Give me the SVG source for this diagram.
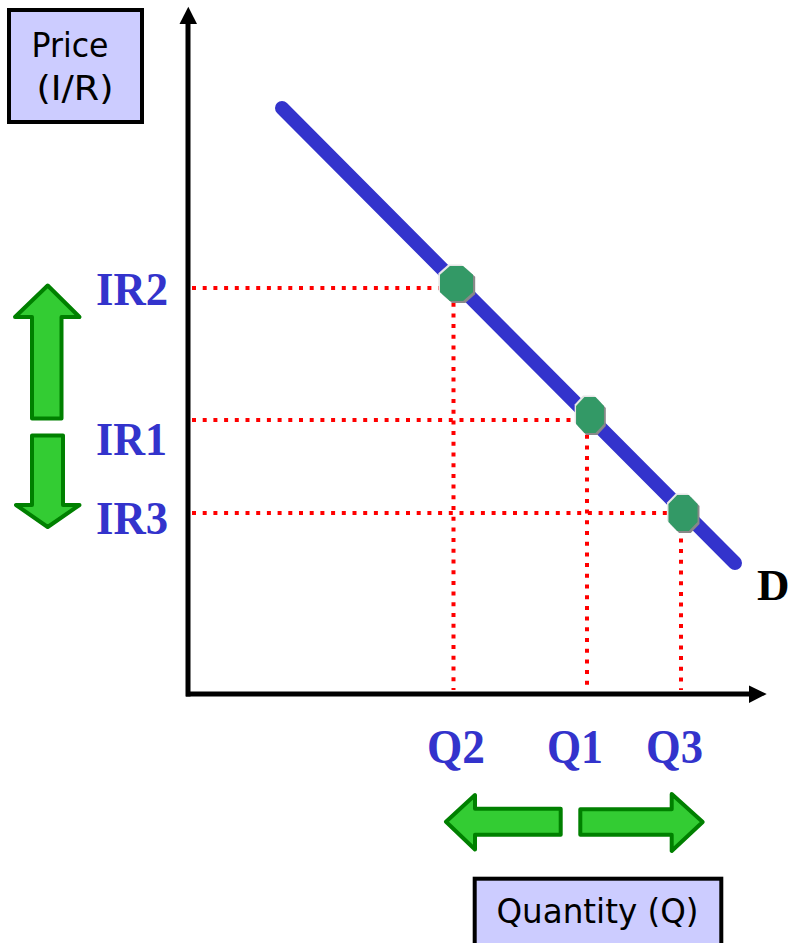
<svg xmlns="http://www.w3.org/2000/svg" width="790" height="943" viewBox="0 0 790 943">
<style>
.box{fill:#CCCCFF;stroke:#000;stroke-width:4}
.lab{font-family:"DejaVu Sans Condensed","DejaVu Sans",sans-serif;fill:#000}
.val{font-family:"Liberation Serif","Times New Roman",serif;font-weight:bold;fill:#3333CC}
.dot{stroke:#FF0000;stroke-width:4;stroke-dasharray:4 6.7;fill:none}
.garrow{fill:#33CC33;stroke:#008000;stroke-width:4;stroke-linejoin:round}
.axis{stroke:#000;stroke-width:5;fill:none}
</style>
<defs>
<g id="oct">
<polygon points="-6,-18 6,-18 15,-9 15,9 6,18 -6,18 -15,9 -15,-9" fill="#888888" transform="translate(2,2)"/>
<polygon points="-6,-18 6,-18 15,-9 15,9 6,18 -6,18 -15,9 -15,-9" fill="#E6E6E6" transform="translate(-1.5,-1.5)"/>
<polygon points="-6,-18 6,-18 15,-9 15,9 6,18 -6,18 -15,9 -15,-9" fill="#339966"/>
</g>
</defs>
<rect width="790" height="943" fill="#fff"/>

<g id="price-box">
<rect class="box" x="9" y="10" width="133" height="112"/>
<text class="lab" x="70" y="57" font-size="34" text-anchor="middle" textLength="77" lengthAdjust="spacingAndGlyphs">Price</text>
<text class="lab" x="75" y="100" font-size="34" text-anchor="middle" textLength="77" lengthAdjust="spacingAndGlyphs">(I/R)</text>
</g>

<g id="quantity-box">
<rect class="box" x="474.7" y="878.7" width="246.6" height="80"/>
<text class="lab" x="597.5" y="922.5" font-size="33" text-anchor="middle" textLength="202" lengthAdjust="spacingAndGlyphs">Quantity (Q)</text>
</g>

<g id="connectors">
<g id="guides">
<line class="dot" x1="192" y1="288" x2="452" y2="288"/>
<line class="dot" x1="192" y1="420" x2="584" y2="420"/>
<line class="dot" x1="192" y1="513" x2="678" y2="513"/>
<line class="dot" x1="453.5" y1="292" x2="453.5" y2="690"/>
<line class="dot" x1="587" y1="424" x2="587" y2="690"/>
<line class="dot" x1="681" y1="517" x2="681" y2="690"/>
</g>
<g id="axes">
<line class="axis" x1="188" y1="22" x2="188" y2="696.5"/>
<polygon points="188.3,6.7 197,24 179.5,24" fill="#000"/>
<line class="axis" x1="186" y1="694" x2="751" y2="694"/>
<polygon points="766.7,694 749,685.5 749,703" fill="#000"/>
</g>
</g>

<g id="demand-curve">
<line x1="282" y1="108" x2="735" y2="563" stroke="#3333CC" stroke-width="14" stroke-linecap="round"/>
<text x="757" y="600" font-family="'Liberation Serif','Times New Roman',serif" font-weight="bold" font-size="45" fill="#000">D</text>
</g>

<g id="point-ir2"><use href="#oct" transform="translate(456.5,283.5) scale(1.1,0.97)"/></g>
<g id="point-ir1"><use href="#oct" transform="translate(590,415) scale(0.93,1.0)"/></g>
<g id="point-ir3"><use href="#oct" transform="translate(683,513) scale(0.97,1.0)"/></g>

<g id="label-ir2"><text class="val" x="96" y="305" font-size="47" textLength="72" lengthAdjust="spacingAndGlyphs">IR2</text></g>
<g id="label-ir1"><text class="val" x="96" y="455" font-size="47" textLength="71" lengthAdjust="spacingAndGlyphs">IR1</text></g>
<g id="label-ir3"><text class="val" x="96" y="534" font-size="47" textLength="72" lengthAdjust="spacingAndGlyphs">IR3</text></g>

<g id="label-q2"><text class="val" x="427" y="763" font-size="49" textLength="58" lengthAdjust="spacingAndGlyphs">Q2</text></g>
<g id="label-q1"><text class="val" x="547" y="763" font-size="49" textLength="56" lengthAdjust="spacingAndGlyphs">Q1</text></g>
<g id="label-q3"><text class="val" x="646" y="763" font-size="49" textLength="57" lengthAdjust="spacingAndGlyphs">Q3</text></g>

<g id="arrow-up"><path class="garrow" d="M47.7,285.5 L79.5,317 L61.5,317 L61.5,418.5 L32,418.5 L32,317 L15,317 Z"/></g>
<g id="arrow-down"><path class="garrow" d="M32,435.5 L63,435.5 L63,505 L79.5,505 L47.7,527 L16,505 L32,505 Z"/></g>
<g id="arrow-left"><path class="garrow" d="M446,821.7 L475,795 L475,808.7 L560.7,808.7 L560.7,834.7 L475,834.7 L475,849.5 Z"/></g>
<g id="arrow-right"><path class="garrow" d="M580.3,809.3 L671.7,809.3 L671.7,794 L702.7,822 L671.7,851 L671.7,834.7 L580.3,834.7 Z"/></g>
</svg>
